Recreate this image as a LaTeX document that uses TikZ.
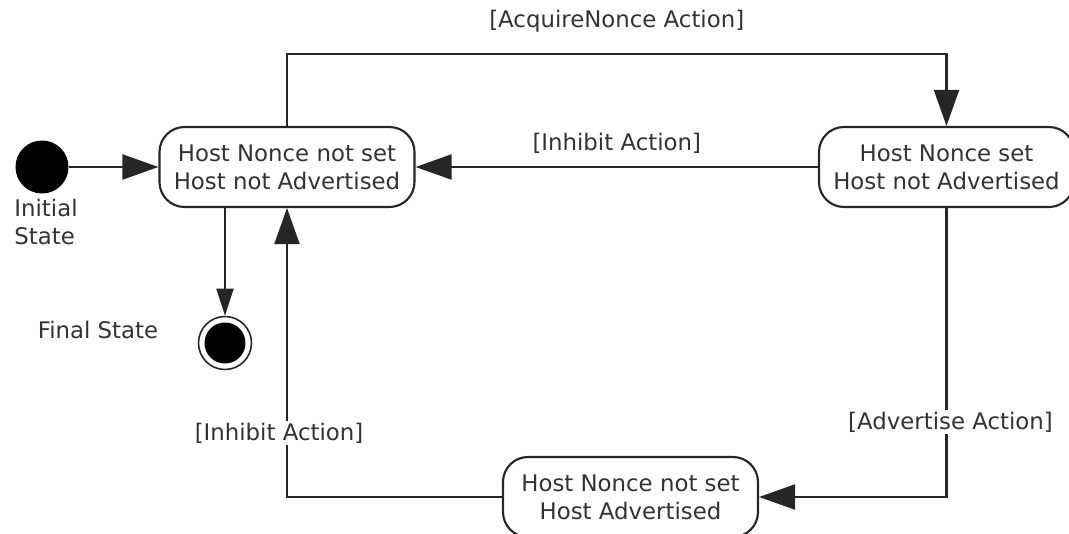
\documentclass[tikz,border=0pt]{standalone}
\usepackage{fontspec}
\setmainfont{DejaVu Sans}
\usetikzlibrary{shapes,arrows.meta}

\begin{document}
\begin{tikzpicture}[node distance=3cm,>={Triangle[length=0.72cm,width=0.5cm]},font=\fontsize{13}{15.9}\selectfont,text=black!80]
			\tikzset{
				state/.style={rectangle, rounded corners=0.5cm, minimum width=5.1cm, minimum height=1.6cm, align=center, draw=black!85, line width=1.2pt, fill=white},
				startdot/.style={circle, fill=black, minimum size=1.06cm, inner sep=0pt},
				enddot/.style={circle, draw=black!85, line width=0.9pt, minimum size=1.06cm, inner sep=0pt, path picture={\fill[black] (path picture bounding box.center) circle (0.41cm);}},
				line/.style={draw=black!85, line width=1.2pt, ->},
				guard/.style={fill=white, inner sep=1pt},
			}
			\useasboundingbox (-5.74,-7.34) rectangle (15.64,3.34);
			\node[state](hnns){Host Nonce not set\\Host not Advertised};
			\node[startdot, left of=hnns, xshift=-1.9cm](init){};
			\node[align=left, below of=init, xshift=0.08cm, yshift=1.9cm](initlbl){Initial\\State};
			\node[state, right of=hnns, xshift=10.19cm](hns){Host Nonce set\\Host not Advertised};
			\node[state, below of=hns, xshift=-6.32cm, yshift=-3.6cm](hnsa){Host Nonce not set\\Host Advertised};
			\node[enddot, below of=hnns, xshift=-1.24cm, yshift=-0.52cm](fin){};
			\node[left of=fin, xshift=0.46cm, yshift=0.26cm](finlbl){Final State};
			%draw arrows
			\draw[line] (init) -- (hnns);
			\draw[line] (hnns.north) -- ++(0,1.44) -| node[pos=0.25, yshift=0.66cm] {[AcquireNonce Action]} (hns.north);
			\draw[line] (hns) -- node[yshift=0.48cm] {[Inhibit Action]} (hnns);
			\draw[line, >={Triangle[length=0.54cm,width=0.34cm]}] (hnns.south -| fin) -- (fin);
			\draw[line] (hns.south) |- node[guard, pos=0.37, xshift=0.08cm] {[Advertise Action]} (hnsa);
			\draw[line] (hnsa) -| node[guard, pos=0.61, xshift=-0.16cm] {[Inhibit Action]} (hnns);
		\end{tikzpicture}
\end{document}
